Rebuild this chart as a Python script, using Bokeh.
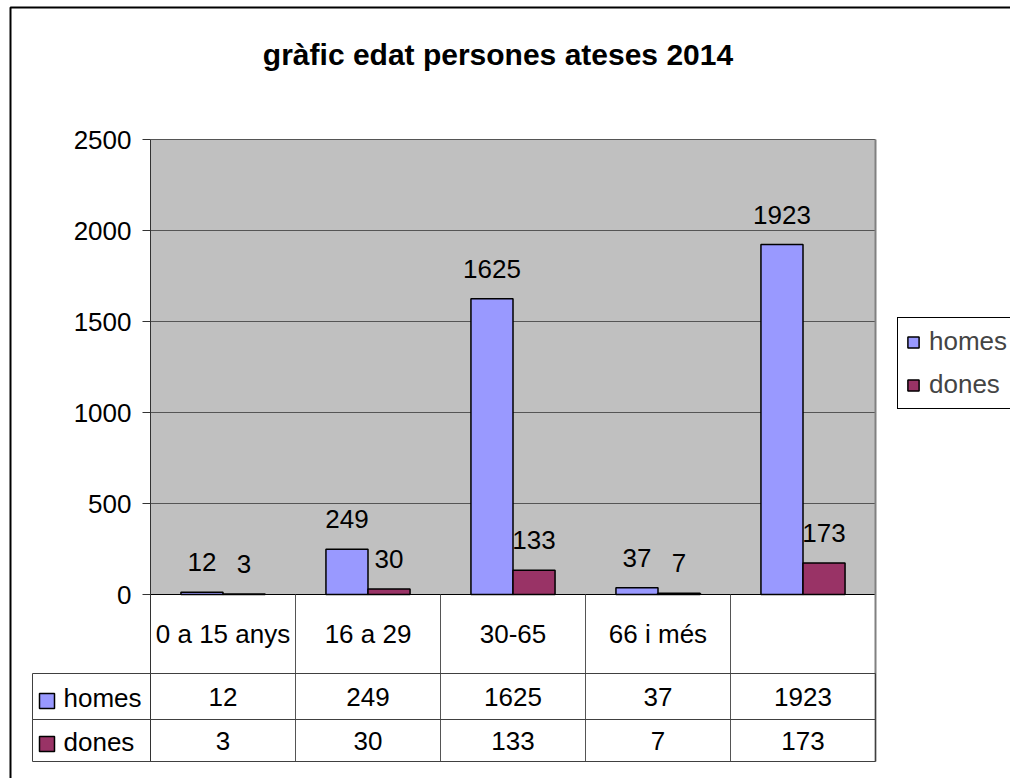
from bokeh.plotting import figure
from bokeh.models import (ColumnDataSource, Range1d, FixedTicker, LabelSet, Label,
                          BoxAnnotation, Legend, LegendItem)
from bokeh.core.properties import value
from bokeh.transform import dodge
from bokeh.embed import file_html
from bokeh.resources import INLINE

# ---------------- data ----------------
title_text = "gràfic edat persones ateses 2014"
categories = ["0 a 15 anys", "16 a 29", "30-65", "66 i més", ""]
homes = [12, 249, 1625, 37, 1923]
dones = [3, 30, 133, 7, 173]
series_names = ["homes", "dones"]
y_ticks = [0, 500, 1000, 1500, 2000, 2500]

# ---------------- style / layout (pixels) ----------------
HOMES_COLOR = "#9999FF"
DONES_COLOR = "#993366"
FONT = "Liberation Sans"
FS = "26px"
W, H = 1010, 778
PX_LEFT, PX_RIGHT = 150, 875        # category area
PX_TOP, PX_ZERO = 139, 594          # top tick, zero line
PX_ROW1, PX_ROW2, PX_BOT = 673, 719, 761
n = len(categories)
ppc = (PX_RIGHT - PX_LEFT) / n      # px per category
upp = y_ticks[-1] / (PX_ZERO - PX_TOP)
x_start = -0.5 - PX_LEFT / ppc
x_end = n - 0.5 + (W - PX_RIGHT) / ppc
y_end = y_ticks[-1] + PX_TOP * upp
y_start = -(H - PX_ZERO) * upp
y_bot = -(PX_BOT - PX_ZERO) * upp
BAR_W = 0.29
OFF = BAR_W / 2
x_lo, x_hi = -0.5, n - 0.5

idx = list(range(n))
source = ColumnDataSource(dict(
    x=idx, cat=categories, homes=homes, dones=dones,
    homes_txt=[str(v) for v in homes], dones_txt=[str(v) for v in dones],
    zero=[0] * n,
))

p = figure(x_range=Range1d(x_start, x_end), y_range=Range1d(y_start, y_end),
           width=W, height=H, min_border=0,
           output_backend="svg", toolbar_location=None,
           background_fill_color="white", border_fill_color="white")
p.outline_line_color = None
p.xaxis.visible = False
p.grid.visible = False

# gray plot area
p.add_layout(BoxAnnotation(left=x_lo, right=x_hi, bottom=0, top=y_ticks[-1],
                           fill_color="#C0C0C0", fill_alpha=1, line_color=None, level="underlay"))

# y axis drawn at the left edge of the category area
yax = p.yaxis[0]
yax.fixed_location = x_lo
yax.bounds = (y_bot, y_ticks[-1])
yax.ticker = FixedTicker(ticks=y_ticks)
yax.major_label_text_font = FONT
yax.major_label_text_font_size = FS
yax.major_label_text_color = "black"
yax.major_tick_out = 8
yax.major_tick_in = 0
yax.minor_tick_out = 0
yax.minor_tick_in = 0
yax.major_tick_line_color = "#333333"
yax.axis_line_color = "#333333"
yax.major_label_standoff = 11

# horizontal grid lines
p.segment(x0=x_lo, x1=x_hi, y0=y_ticks[1:], y1=y_ticks[1:], line_color="#555555", line_width=1)
# zero line
p.segment(x0=x_lo, x1=x_hi, y0=0, y1=0, line_color="black", line_width=1)
# category separators in the table
p.segment(x0=dodge("x", 0.5), y0="zero", x1=dodge("x", 0.5), y1=y_bot,
          source=ColumnDataSource(dict(x=idx[:-1], zero=[0] * (n - 1))),
          line_color="#555555", line_width=1)
# right border of plot area + table
p.segment(x0=x_hi, x1=x_hi, y0=y_bot, y1=y_ticks[-1], line_color="#808080", line_width=2)

r_h = p.vbar(x=dodge("x", -OFF), top="homes", width=BAR_W, source=source,
             fill_color=HOMES_COLOR, line_color="black", line_width=1.5)
r_d = p.vbar(x=dodge("x", OFF), top="dones", width=BAR_W, source=source,
             fill_color=DONES_COLOR, line_color="black", line_width=1.5)

lbl_kw = dict(source=source, text_align="center", text_baseline="middle",
              text_font=value(FONT), text_font_size=value(FS), text_color="black")
p.add_layout(LabelSet(x=dodge("x", -OFF), y="homes", text="homes_txt", y_offset=30, **lbl_kw))
p.add_layout(LabelSet(x=dodge("x", OFF), y="dones", text="dones_txt", y_offset=30, **lbl_kw))

# table texts
p.add_layout(LabelSet(x="x", y="zero", text="cat", y_offset=-(PX_ROW1 - PX_ZERO) / 2, **lbl_kw))
p.add_layout(LabelSet(x="x", y="zero", text="homes_txt",
                      y_offset=-((PX_ROW1 + PX_ROW2) / 2 - PX_ZERO), **lbl_kw))
p.add_layout(LabelSet(x="x", y="zero", text="dones_txt",
                      y_offset=-((PX_ROW2 + PX_BOT) / 2 - PX_ZERO), **lbl_kw))

# table row lines and row-header boxes (canvas pixels)
cu = dict(left_units="canvas", right_units="canvas", top_units="canvas", bottom_units="canvas")
for t, b in [(PX_ROW1, PX_ROW2), (PX_ROW2, PX_BOT)]:
    p.add_layout(BoxAnnotation(left=32, right=PX_RIGHT, top=t, bottom=b, fill_alpha=0,
                               line_color="#404040", line_alpha=1, line_width=1, **cu))
for t, color in [(693, HOMES_COLOR), (736, DONES_COLOR)]:
    p.add_layout(BoxAnnotation(left=39, right=54, top=t, bottom=t + 15, fill_color=color, fill_alpha=1,
                               line_color="black", line_alpha=1, line_width=1.5, **cu))
for name, yc in zip(series_names, [697, 741]):
    p.add_layout(Label(x=63, y=yc, x_units="canvas", y_units="canvas", text=name,
                       text_baseline="middle", text_font=FONT, text_font_size=FS, text_color="black"))

# title
p.add_layout(Label(x=497.5, y=54, x_units="canvas", y_units="canvas", text=title_text,
                   text_align="center", text_baseline="middle", text_font=FONT,
                   text_font_size="30px", text_font_style="bold", text_color="black"))

# outer chart border
p.add_layout(BoxAnnotation(left=10, right=W + 50, top=7, bottom=H + 50, fill_alpha=0,
                           line_color="black", line_alpha=1, line_width=2, **cu))

legend = Legend(items=[LegendItem(label=series_names[0], renderers=[r_h]),
                       LegendItem(label=series_names[1], renderers=[r_d])],
                location=(897, 369), padding=8, spacing=12, margin=0,
                glyph_width=14, glyph_height=14, label_standoff=9,
                label_text_font=FONT, label_text_font_size=FS,
                border_line_color="black", border_line_alpha=1, border_line_width=1,
                background_fill_color="white", background_fill_alpha=1)
p.add_layout(legend)

open("out.html", "w").write(file_html(p, INLINE))
